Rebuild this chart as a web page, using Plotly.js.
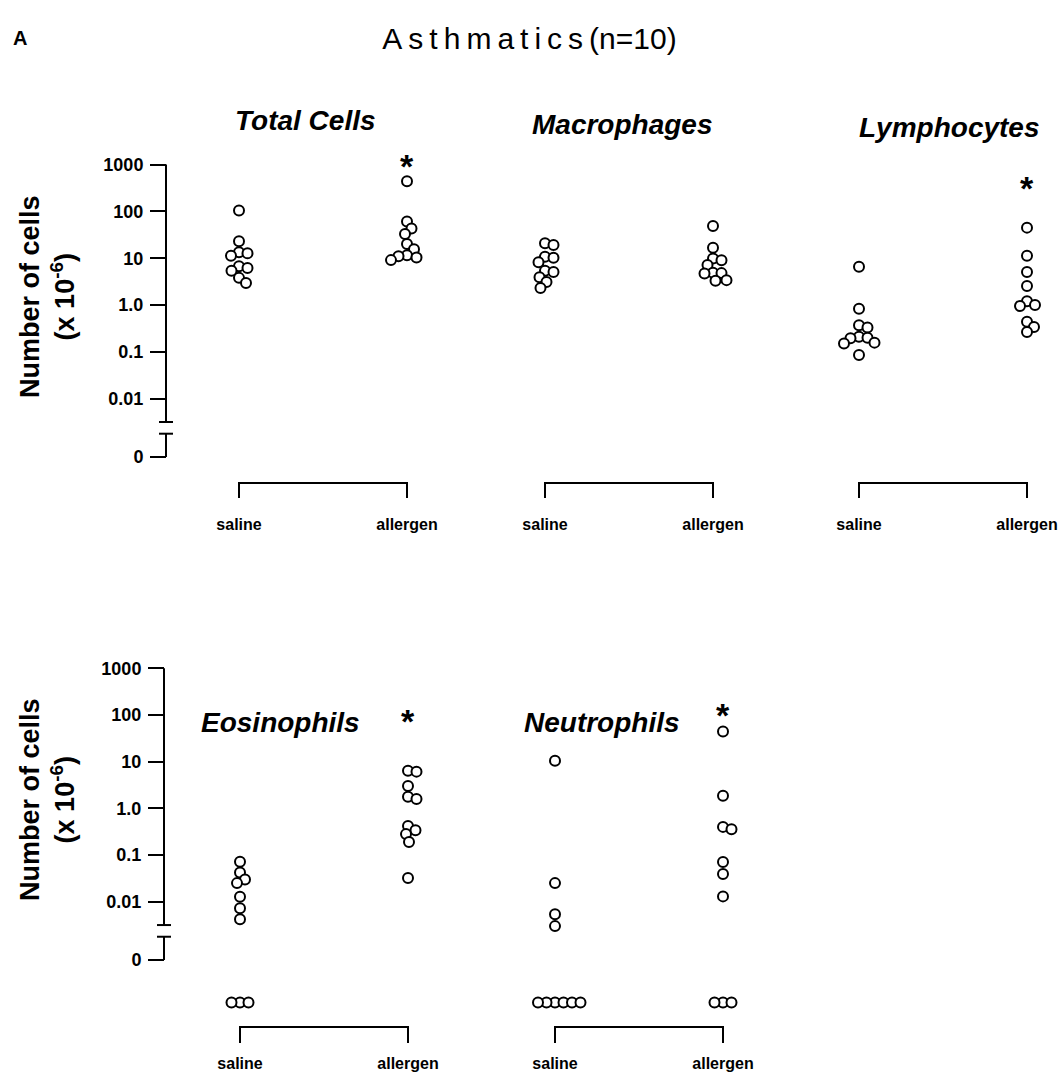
<!DOCTYPE html>
<html>
<head>
<meta charset="utf-8">
<script src="https://cdn.plot.ly/plotly-3.0.1.min.js"></script>
<style>
  html, body { margin: 0; padding: 0; background: #fff; }
  #chart { width: 1059px; height: 1075px; }
</style>
</head>
<body>
<div id="chart"></div>
<script>
// ---------------- DATA (cells x10^-6, 0 = none detected) ----------------
const panelNames = ['Total Cells', 'Macrophages', 'Lymphocytes', 'Eosinophils', 'Neutrophils'];
const groupLabels = ['saline', 'allergen'];
const tickValuesCells = [1000, 100, 10, 1, 0.1, 0.01, 0];
const tickLabelsCells = ['1000', '100', '10', '1.0', '0.1', '0.01', '0'];

const totalSaline     = [105, 23, 13.4, 12.7, 11.3, 6.7, 6.2, 5.4, 3.8, 2.95];
const totalAllergen   = [440, 61, 43, 33, 20, 15.5, 11.5, 11.0, 10.4, 9.1];
const macroSaline     = [20.8, 19.2, 10.8, 10.2, 8.2, 5.4, 5.1, 3.9, 3.1, 2.3];
const macroAllergen   = [49, 16.8, 9.9, 9.0, 7.2, 4.9, 4.8, 4.7, 3.4, 3.3];
const lymphSaline     = [6.6, 0.83, 0.37, 0.33, 0.21, 0.20, 0.195, 0.157, 0.15, 0.085];
const lymphAllergen   = [45, 11.3, 5.1, 2.55, 1.2, 1.0, 0.95, 0.44, 0.34, 0.265];
const eosSaline       = [0.072, 0.042, 0.030, 0.025, 0.0128, 0.0072, 0.0042, 0, 0, 0];
const eosAllergen     = [6.4, 6.1, 3.0, 1.77, 1.58, 0.42, 0.34, 0.28, 0.19, 0.032];
const neutSaline      = [10.4, 0.025, 0.0054, 0.003, 0, 0, 0, 0, 0, 0];
const neutAllergen    = [44, 1.86, 0.40, 0.355, 0.071, 0.039, 0.013, 0, 0, 0];
const significant     = [true, false, true, true, true];   // * allergen vs saline

// ---------------- LAYOUT CONSTANTS ----------------
const W = 1059, H = 1075;
const FONT = 'Liberation Sans, Arial, Helvetica, sans-serif';
const BREAK_HI = -2.5, BREAK_LO = -2.75, ZERO_TICK = -3.25, ZERO_POS = -4.16;
const rows = [
  { log0: 305,   dec: 46.8, top: 140, bottom: 505,  axisX: 166, brTop: 483,  brBot: 498,  titleY: 297, lblStand: 8 },
  { log0: 808.3, dec: 46.7, top: 640, bottom: 1047, axisX: 164, brTop: 1027, brBot: 1043, titleY: 800, lblStand: 5 }
];
const panels = [
  { row: 0, cx: 239, titleX: 305, titleY: 120, starY: 161 },
  { row: 0, cx: 545, titleX: 622, titleY: 125, starY: null },
  { row: 0, cx: 859, titleX: 949, titleY: 127, starY: 183 },
  { row: 1, cx: 240, titleX: 280, titleY: 722, starY: 716 },
  { row: 1, cx: 555, titleX: 602, titleY: 722, starY: 710 }
];
const series = [
  [totalSaline, totalAllergen],
  [macroSaline, macroAllergen],
  [lymphSaline, lymphAllergen],
  [eosSaline, eosAllergen],
  [neutSaline, neutAllergen]
];
const PXU = 168;            // pixels per x unit (saline->allergen)
const XR = [-0.3, 1.18];
const DOT = 10;             // marker diameter px

const toLog = v => (v > 0 ? Math.log10(v) : ZERO_POS);
const tickPos = tickValuesCells.map(v => (v > 0 ? Math.log10(v) : ZERO_TICK));

// simple beeswarm in pixel space
function swarm(vals, dec) {
  const pts = vals.map((v, i) => ({ i, y: toLog(v) * dec }));
  const order = pts.slice().sort((a, b) => b.y - a.y);
  const placed = [];
  const off = new Array(vals.length).fill(0);
  const minD = DOT - 1.6;
  order.forEach(p => {
    for (let k = 0; k < 400; k++) {
      const x = Math.ceil(k / 2) * 0.5 * (k % 2 === 1 ? 1 : -1);
      const ok = placed.every(q => Math.hypot(q.x - x, q.y - p.y) >= minD);
      if (ok) { placed.push({ x, y: p.y }); off[p.i] = x; break; }
    }
  });
  return off.map(o => o / PXU);
}

const traces = [];
const layout = {
  width: W, height: H,
  margin: { l: 0, r: 0, t: 0, b: 0 },
  paper_bgcolor: '#fff', plot_bgcolor: 'rgba(0,0,0,0)',
  showlegend: false,
  font: { family: FONT, color: '#000' },
  title: {
    text: '<span style="letter-spacing:6px">Asthmatics</span>(n=10)',
    x: 0.5, xanchor: 'center', xref: 'paper',
    y: 1 - 38 / H, yanchor: 'middle', yref: 'paper',
    font: { family: FONT, size: 30, color: '#000' }
  },
  shapes: [],
  annotations: []
};

rows.forEach((r, ri) => {
  const yName = ri === 0 ? 'yaxis' : 'yaxis2';
  layout[yName] = {
    domain: [1 - r.bottom / H, 1 - r.top / H],
    range: [(r.log0 - r.bottom) / r.dec, (r.log0 - r.top) / r.dec],
    anchor: 'free', position: r.axisX / W, side: 'left',
    showgrid: false, zeroline: false, showline: false,
    ticks: 'outside', ticklen: 16, tickwidth: 2, tickcolor: '#000',
    tickvals: tickPos, ticktext: tickLabelsCells,
    tickfont: { family: FONT, size: 18, weight: 'bold', color: '#000' },
    ticklabelstandoff: 3
  };
  const yref = ri === 0 ? 'y' : 'y2';
  const xp = r.axisX / W, cap = 7 / W;
  const ln = { color: '#000', width: 2 };
  layout.shapes.push(
    { type: 'line', xref: 'paper', yref, x0: xp, x1: xp, y0: tickPos[0], y1: BREAK_HI, line: ln },
    { type: 'line', xref: 'paper', yref, x0: xp - cap, x1: xp + cap, y0: BREAK_HI, y1: BREAK_HI, line: ln },
    { type: 'line', xref: 'paper', yref, x0: xp - cap, x1: xp + cap, y0: BREAK_LO, y1: BREAK_LO, line: ln },
    { type: 'line', xref: 'paper', yref, x0: xp, x1: xp, y0: BREAK_LO, y1: ZERO_TICK, line: ln }
  );
  layout.annotations.push({
    xref: 'paper', yref: 'paper', x: 47 / W, y: 1 - r.titleY / H,
    xanchor: 'center', yanchor: 'middle', textangle: -90, showarrow: false,
    text: '<b>Number of cells<br>(x 10<sup>-6</sup>)</b>',
    font: { family: FONT, size: 27, color: '#000' }
  });
});

panels.forEach((p, pi) => {
  const r = rows[p.row];
  const xName = pi === 0 ? 'xaxis' : 'xaxis' + (pi + 1);
  const xId = pi === 0 ? 'x' : 'x' + (pi + 1);
  const yId = p.row === 0 ? 'y' : 'y2';
  layout[xName] = {
    domain: [(p.cx + XR[0] * PXU) / W, (p.cx + XR[1] * PXU) / W],
    range: XR, anchor: yId,
    showgrid: false, zeroline: false, showline: false, ticks: '',
    tickvals: [0, 1], ticktext: groupLabels,
    tickfont: { family: FONT, size: 16, weight: 'bold', color: '#000' },
    ticklabelstandoff: r.lblStand
  };
  series[pi].forEach((vals, gi) => {
    const offs = swarm(vals, r.dec);
    traces.push({
      type: 'scatter', mode: 'markers', xaxis: xId, yaxis: yId,
      x: vals.map((v, i) => gi + offs[i]),
      y: vals.map(toLog),
      text: vals.map(v => groupLabels[gi] + ': ' + v),
      hoverinfo: 'text',
      marker: { symbol: 'circle', size: DOT, color: '#fff', line: { color: '#000', width: 2 } },
      cliponaxis: false
    });
  });
  // bracket
  const yt = 1 - r.brTop / H, yb = 1 - r.brBot / H;
  layout.shapes.push({
    type: 'path', xref: xId, yref: 'paper',
    path: `M 0,${yb} L 0,${yt} L 1,${yt} L 1,${yb}`,
    line: { color: '#000', width: 2 }
  });
  // panel title
  layout.annotations.push({
    xref: 'paper', yref: 'paper', x: p.titleX / W, y: 1 - p.titleY / H,
    xanchor: 'center', yanchor: 'middle', showarrow: false,
    text: '<b><i>' + panelNames[pi] + '</i></b>',
    font: { family: FONT, size: 28, color: '#000' }
  });
  if (significant[pi]) {
    layout.annotations.push({
      xref: xId, yref: 'paper', x: 1, y: 1 - (p.starY + 5) / H,
      xanchor: 'center', yanchor: 'middle', showarrow: false,
      text: '<b>*</b>', font: { family: FONT, size: 34, color: '#000' }
    });
  }
});

layout.annotations.push({
  xref: 'paper', yref: 'paper', x: 20 / W, y: 1 - 38 / H,
  xanchor: 'center', yanchor: 'middle', showarrow: false,
  text: '<b>A</b>', font: { family: FONT, size: 20, color: '#000' }
});

Plotly.newPlot('chart', traces, layout, { staticPlot: true, displayModeBar: false });
</script>
</body>
</html>
